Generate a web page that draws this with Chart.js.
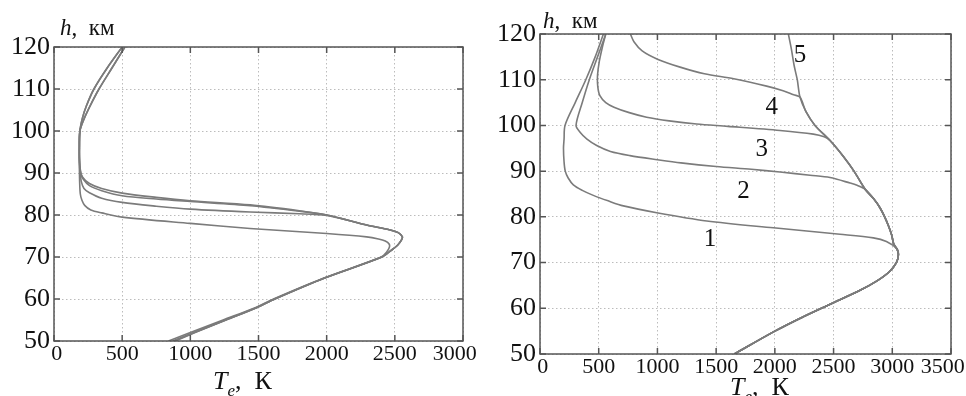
<!DOCTYPE html>
<html>
<head>
<meta charset="utf-8">
<script src="https://cdn.jsdelivr.net/npm/chart.js@4.4.1/dist/chart.umd.min.js"></script>
<style>
    body { margin: 0; background: #fff; width: 966px; height: 396px; overflow: hidden; position: relative; }
    #left { position: absolute; left: 0; top: 0; }
    #right { position: absolute; left: 480px; top: 0; }
</style>
</head>
<body>
<canvas id="left" width="492" height="396"></canvas>
<canvas id="right" width="486" height="396"></canvas>
<script>
// ---- left panel: four profiles, Te (K) against h (km), bottom to top ----
const leftA_T = [880, 1030, 1260, 1490, 1620, 1985, 2405, 2470, 2520, 2548, 2555, 2525, 2460, 2293, 2150, 2000, 1800, 1440, 1000, 750, 500, 350, 260, 210, 192, 186, 190, 208, 238, 293, 390, 500];
const leftA_h = [50, 52, 55, 58, 60, 65, 70, 71.5, 72.8, 74, 74.8, 75.8, 76.5, 77.6, 78.8, 80, 81, 82.4, 83.4, 84.2, 85.2, 86.3, 87.5, 89, 91, 95, 100, 103, 106, 110, 115, 120];

const leftB_T = [890, 1035, 1262, 1490, 1620, 1985, 2405, 2470, 2520, 2548, 2555, 2525, 2460, 2293, 2150, 2000, 1800, 1440, 1000, 750, 500, 350, 260, 215, 195, 187, 186, 190, 222, 265, 330, 425, 520];
const leftB_h = [50, 52, 55, 58, 60, 65, 70, 71.5, 72.8, 74, 74.8, 75.8, 76.5, 77.6, 78.8, 80, 80.9, 82.2, 83.2, 83.8, 84.6, 85.8, 87, 88.5, 90, 93, 96, 100, 103, 106, 110, 115, 120];

const leftC_T = [870, 1025, 1255, 1488, 1618, 1985, 2405, 2470, 2520, 2548, 2555, 2525, 2460, 2293, 2150, 2000, 1800, 1440, 1000, 750, 500, 350, 260, 220, 200, 190, 186, 187, 190, 208, 238, 293, 390, 500];
const leftC_h = [50, 52, 55, 58, 60, 65, 70, 71.5, 72.8, 74, 74.8, 75.8, 76.5, 77.6, 78.8, 79.9, 80.3, 80.7, 81.4, 82.1, 83, 84, 85.3, 86.3, 88, 90.5, 94, 97, 100, 103, 106, 110, 115, 120];

const leftD_T = [840, 1000, 1240, 1480, 1610, 1980, 2400, 2440, 2460, 2458, 2430, 2380, 2293, 2000, 1438, 1000, 500, 350, 270, 225, 205, 193, 188, 186, 186, 190, 222, 265, 330, 425, 520];
const leftD_h = [50, 52, 55, 58, 60, 65, 70, 71.2, 72.3, 73.1, 73.8, 74.3, 74.8, 75.6, 76.8, 78, 79.5, 80.5, 81.2, 82.3, 83.5, 85, 88, 92, 96, 100, 103, 106, 110, 115, 120];

// ---- right panel: common lower branch (= curve 5) and the branches of curves 1-4 ----
const env_T = [1655, 2000, 2230, 2480, 2730, 2870, 2975, 3035, 3052, 3040, 3013, 2995, 2968, 2935, 2895, 2840, 2770, 2674, 2590, 2470, 2342, 2265, 2214, 2191, 2165, 2140, 2115];
const env_h = [50, 55, 58, 61, 64, 66, 68, 70, 71.7, 73, 74, 76, 78, 80, 82, 84, 86, 90, 93, 96.7, 100, 103, 106.2, 110, 113, 116.8, 120];

const br1_T = [2950, 2839, 2555, 1987, 1420, 994, 710, 580, 454, 360, 284, 240, 215, 205, 200, 205, 213, 300, 390, 470, 540];
const br1_h = [74.6, 75.4, 76.2, 77.6, 79.1, 80.9, 82.4, 83.5, 84.7, 85.8, 87, 88.5, 90, 92, 95, 97, 100, 105, 110, 115, 120];
const br2_T = [2700, 2640, 2470, 2300, 2044, 1800, 1500, 1200, 1000, 766, 600, 483, 400, 341, 307, 360, 420, 490, 560];
const br2_h = [86.9, 87.4, 88.6, 89.1, 89.8, 90.4, 91, 91.8, 92.5, 93.4, 94.3, 95.6, 97, 98.5, 100, 105, 110, 115, 120];
const br3_T = [2420, 2328, 2044, 1600, 1334, 1100, 908, 760, 630, 560, 510, 492, 490, 505, 530, 560];
const br3_h = [97.5, 98.1, 98.9, 99.8, 100.3, 101, 101.8, 102.8, 104, 105, 106.5, 108.5, 111, 114, 117, 120];
const br4_T = [2160, 2070, 1930, 1650, 1400, 1200, 1000, 870, 800, 770];
const br4_h = [106.7, 107.6, 108.6, 110.2, 111.3, 112.7, 114.5, 116.3, 118.3, 120];
// height on the common branch where each curve leaves it
const branchFrom = [73, 86, 96.7, 106.2];

const curveNames = ['1', '2', '3', '4', '5'];
const curveName_T = [1448, 1732, 1888, 1973, 2214];
const curveName_h = [75.4, 86, 95.2, 104.3, 115.7];

const SERIF = '"Liberation Serif", "DejaVu Serif", serif';

function pts(T, h) {
    return T.map((t, i) => ({ x: t, y: h[i] }));
}

function curve(data) {
    return {
        data: data,
        showLine: true,
        borderColor: '#7b7b7b',
        borderWidth: 1.6,
        pointRadius: 0,
        tension: 0.3,
        fill: false
    };
}

// frame, inward ticks and the texts
const panelText = {
    id: 'panelText',
    afterDraw(chart, args, opts) {
        const ctx = chart.ctx;
        const a = chart.chartArea;
        const xs = chart.scales.x, ys = chart.scales.y;
        ctx.save();
        ctx.strokeStyle = '#555';
        ctx.lineWidth = 1.5;
        ctx.beginPath();
        xs.ticks.forEach(t => {
            const p = xs.getPixelForValue(t.value);
            ctx.moveTo(p, a.bottom); ctx.lineTo(p, a.bottom - 6);
            ctx.moveTo(p, a.top); ctx.lineTo(p, a.top + 6);
        });
        ys.ticks.forEach(t => {
            const p = ys.getPixelForValue(t.value);
            ctx.moveTo(a.left, p); ctx.lineTo(a.left + 6, p);
            ctx.moveTo(a.right, p); ctx.lineTo(a.right - 6, p);
        });
        ctx.stroke();
        ctx.strokeRect(a.left, a.top, a.right - a.left, a.bottom - a.top);

        ctx.fillStyle = '#111';
        ctx.textBaseline = 'alphabetic';
        ctx.textAlign = 'left';
        // h, км
        let x = opts.hx;
        ctx.font = 'italic 23px ' + SERIF;
        ctx.fillText('h', x, opts.hy);
        x += ctx.measureText('h').width;
        ctx.font = '23px ' + SERIF;
        ctx.fillText(',  км', x, opts.hy);
        // Te, К
        x = opts.tx;
        ctx.font = 'italic 26px ' + SERIF;
        ctx.fillText('T', x, opts.ty);
        x += ctx.measureText('T').width;
        ctx.font = 'italic 17px ' + SERIF;
        ctx.fillText('e', x, opts.ty + 7);
        x += ctx.measureText('e').width;
        ctx.font = '26px ' + SERIF;
        ctx.fillText(',  К', x, opts.ty);

        if (opts.names) {
            ctx.font = '25px ' + SERIF;
            ctx.textAlign = 'center';
            ctx.textBaseline = 'middle';
            opts.names.forEach((n, i) => {
                ctx.fillText(n, xs.getPixelForValue(opts.names_T[i]), ys.getPixelForValue(opts.names_h[i]) + 2);
            });
        }
        ctx.restore();
    }
};

// plain numbers; the end labels sit a little inside the frame as in the original
function xLabel(xMax) {
    return function (v) {
        if (v === 0) return ' 0';
        if (v === xMax) return v + '   ';
        return String(v);
    };
}

function scales(xMax, yWidth, xHeight) {
    return {
        x: {
            type: 'linear', min: 0, max: xMax,
            ticks: { stepSize: 500, color: '#111', padding: 0, maxRotation: 0, autoSkip: false, font: { family: SERIF, size: 22 }, callback: xLabel(xMax) },
            grid: { color: '#bcbcbc', lineWidth: 1, drawTicks: false },
            border: { display: false, dash: [1.5, 2.5] },
            afterFit: s => { s.height = xHeight; s.paddingLeft = 0; s.paddingRight = 0; }
        },
        y: {
            type: 'linear', min: 50, max: 120,
            ticks: { stepSize: 10, color: '#111', padding: 4, font: { family: SERIF, size: 26 }, callback: v => String(v) },
            grid: { color: '#bcbcbc', lineWidth: 1, drawTicks: false },
            border: { display: false, dash: [1.5, 2.5] },
            afterFit: s => { s.width = yWidth; s.paddingTop = 0; s.paddingBottom = 0; }
        }
    };
}

function baseOptions(xMax, yWidth, xHeight, pad, text) {
    return {
        responsive: false,
        animation: false,
        devicePixelRatio: 1,
        layout: { padding: pad },
        plugins: { legend: { display: false }, tooltip: { enabled: false }, panelText: text },
        scales: scales(xMax, yWidth, xHeight)
    };
}

new Chart(document.getElementById('left'), {
    type: 'scatter',
    data: {
        datasets: [
            curve(pts(leftA_T, leftA_h)),
            curve(pts(leftB_T, leftB_h)),
            curve(pts(leftC_T, leftC_h)),
            curve(pts(leftD_T, leftD_h))
        ]
    },
    options: baseOptions(3000, 54, 55, { left: 0, right: 29, top: 47, bottom: 0 },
        { hx: 60, hy: 35, tx: 213, ty: 389 }),
    plugins: [panelText]
});

// each numbered curve: common branch up to where it leaves, then its own branch
const envPts = pts(env_T, env_h);
const branches = [pts(br1_T, br1_h), pts(br2_T, br2_h), pts(br3_T, br3_h), pts(br4_T, br4_h)];
const rightSets = branches.map((b, i) => curve(envPts.filter(p => p.y <= branchFrom[i]).concat(b)));
rightSets.push(curve(envPts));

new Chart(document.getElementById('right'), {
    type: 'scatter',
    data: { datasets: rightSets },
    options: baseOptions(3500, 60, 42, { left: 0, right: 15, top: 34, bottom: 0 },
        { hx: 63, hy: 28, tx: 250, ty: 395, names: curveNames, names_T: curveName_T, names_h: curveName_h }),
    plugins: [panelText]
});
</script>
</body>
</html>
